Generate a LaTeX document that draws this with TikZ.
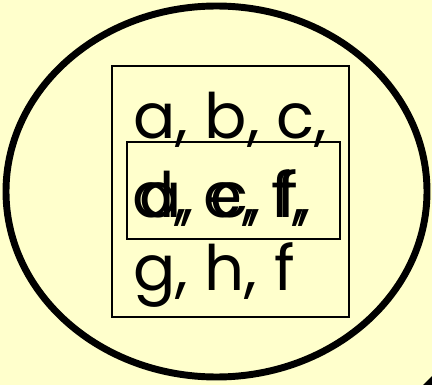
\documentclass[tikz,border=0pt]{standalone}
\usepackage{fontspec}
\setmainfont{Poppins}
\definecolor{paper}{RGB}{255,255,204}

\begin{document}
\begin{tikzpicture}[x=0.75pt, y=-0.75pt,
    setline/.style={line width=5.2pt},
    box/.style={draw, line width=1.3pt},
    letters/.style={anchor=base west, inner sep=0pt, font=\fontsize{47}{56}\selectfont}
    ]

    \fill[paper] (0,0) rectangle (432,385);
    \useasboundingbox (0,0) rectangle (432,385);

    % the set and its two boxes
    \draw[setline] (216.5,191.5) ellipse [x radius=210.5, y radius=185.5];
    \fill (423,385) -- (432,376) -- (432,385) -- cycle;
    \draw[box] (112,66) rectangle (349,317);
    \draw[box] (127,142) rectangle (340,239);

    \node[letters] (R1) at (133,138) {a, b, c,};
    \node[letters] (R2) at (132,217) {d, e, f,};
    \node[letters] (R2b) at (139,217) {a, c, f,};
    \node[letters] (R3) at (133,290) {g, h, f};

\end{tikzpicture}
\end{document}
